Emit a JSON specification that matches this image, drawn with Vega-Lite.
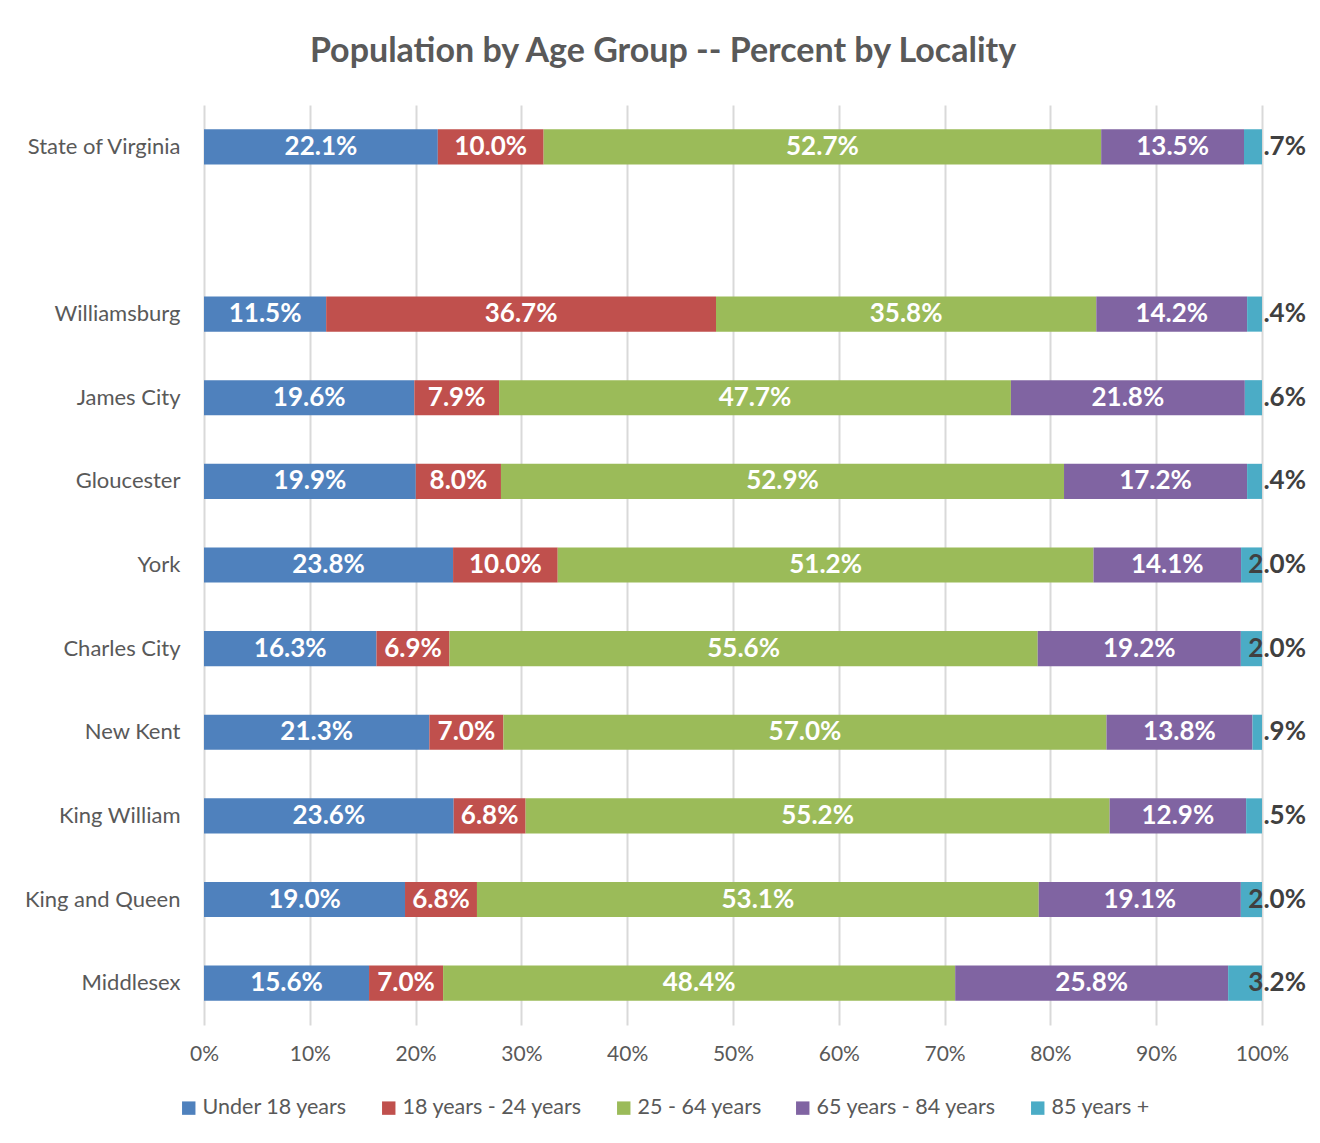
{
  "$schema": "https://vega.github.io/schema/vega-lite/v6.json",
  "width": 1058,
  "height": 920,
  "autosize": {"type": "none"},
  "padding": {"left": 204, "top": 105, "right": 58, "bottom": 118},
  "background": "white",
  "title": {"text": "Population by Age Group -- Percent by Locality", "font": "Lato", "fontSize": 34, "fontWeight": "bold", "color": "#595959", "anchor": "middle", "dx": -70, "offset": 36},
  "config": {"view": {"stroke": null}},
  "data": {"values": [
    {"loc": "State of Virginia", "grp": "Under 18 years", "k": 1, "v": 0.221},
    {"loc": "State of Virginia", "grp": "18 years - 24 years", "k": 2, "v": 0.100},
    {"loc": "State of Virginia", "grp": "25 - 64 years", "k": 3, "v": 0.527},
    {"loc": "State of Virginia", "grp": "65 years - 84 years", "k": 4, "v": 0.135},
    {"loc": "State of Virginia", "grp": "85 years +", "k": 5, "v": 0.017, "tag": ".7%"},
    {"loc": "Williamsburg", "grp": "Under 18 years", "k": 1, "v": 0.115},
    {"loc": "Williamsburg", "grp": "18 years - 24 years", "k": 2, "v": 0.367},
    {"loc": "Williamsburg", "grp": "25 - 64 years", "k": 3, "v": 0.358},
    {"loc": "Williamsburg", "grp": "65 years - 84 years", "k": 4, "v": 0.142},
    {"loc": "Williamsburg", "grp": "85 years +", "k": 5, "v": 0.014, "tag": ".4%"},
    {"loc": "James City", "grp": "Under 18 years", "k": 1, "v": 0.196},
    {"loc": "James City", "grp": "18 years - 24 years", "k": 2, "v": 0.079},
    {"loc": "James City", "grp": "25 - 64 years", "k": 3, "v": 0.477},
    {"loc": "James City", "grp": "65 years - 84 years", "k": 4, "v": 0.218},
    {"loc": "James City", "grp": "85 years +", "k": 5, "v": 0.016, "tag": ".6%"},
    {"loc": "Gloucester", "grp": "Under 18 years", "k": 1, "v": 0.199},
    {"loc": "Gloucester", "grp": "18 years - 24 years", "k": 2, "v": 0.080},
    {"loc": "Gloucester", "grp": "25 - 64 years", "k": 3, "v": 0.529},
    {"loc": "Gloucester", "grp": "65 years - 84 years", "k": 4, "v": 0.172},
    {"loc": "Gloucester", "grp": "85 years +", "k": 5, "v": 0.014, "tag": ".4%"},
    {"loc": "York", "grp": "Under 18 years", "k": 1, "v": 0.238},
    {"loc": "York", "grp": "18 years - 24 years", "k": 2, "v": 0.100},
    {"loc": "York", "grp": "25 - 64 years", "k": 3, "v": 0.512},
    {"loc": "York", "grp": "65 years - 84 years", "k": 4, "v": 0.141},
    {"loc": "York", "grp": "85 years +", "k": 5, "v": 0.020, "tag": "2.0%"},
    {"loc": "Charles City", "grp": "Under 18 years", "k": 1, "v": 0.163},
    {"loc": "Charles City", "grp": "18 years - 24 years", "k": 2, "v": 0.069},
    {"loc": "Charles City", "grp": "25 - 64 years", "k": 3, "v": 0.556},
    {"loc": "Charles City", "grp": "65 years - 84 years", "k": 4, "v": 0.192},
    {"loc": "Charles City", "grp": "85 years +", "k": 5, "v": 0.020, "tag": "2.0%"},
    {"loc": "New Kent", "grp": "Under 18 years", "k": 1, "v": 0.213},
    {"loc": "New Kent", "grp": "18 years - 24 years", "k": 2, "v": 0.070},
    {"loc": "New Kent", "grp": "25 - 64 years", "k": 3, "v": 0.570},
    {"loc": "New Kent", "grp": "65 years - 84 years", "k": 4, "v": 0.138},
    {"loc": "New Kent", "grp": "85 years +", "k": 5, "v": 0.009, "tag": ".9%"},
    {"loc": "King William", "grp": "Under 18 years", "k": 1, "v": 0.236},
    {"loc": "King William", "grp": "18 years - 24 years", "k": 2, "v": 0.068},
    {"loc": "King William", "grp": "25 - 64 years", "k": 3, "v": 0.552},
    {"loc": "King William", "grp": "65 years - 84 years", "k": 4, "v": 0.129},
    {"loc": "King William", "grp": "85 years +", "k": 5, "v": 0.015, "tag": ".5%"},
    {"loc": "King and Queen", "grp": "Under 18 years", "k": 1, "v": 0.190},
    {"loc": "King and Queen", "grp": "18 years - 24 years", "k": 2, "v": 0.068},
    {"loc": "King and Queen", "grp": "25 - 64 years", "k": 3, "v": 0.531},
    {"loc": "King and Queen", "grp": "65 years - 84 years", "k": 4, "v": 0.191},
    {"loc": "King and Queen", "grp": "85 years +", "k": 5, "v": 0.020, "tag": "2.0%"},
    {"loc": "Middlesex", "grp": "Under 18 years", "k": 1, "v": 0.156},
    {"loc": "Middlesex", "grp": "18 years - 24 years", "k": 2, "v": 0.070},
    {"loc": "Middlesex", "grp": "25 - 64 years", "k": 3, "v": 0.484},
    {"loc": "Middlesex", "grp": "65 years - 84 years", "k": 4, "v": 0.258},
    {"loc": "Middlesex", "grp": "85 years +", "k": 5, "v": 0.032, "tag": "3.2%"}
  ]},
  "encoding": {
    "y": {
      "field": "loc", "type": "nominal",
      "scale": {"domain": ["State of Virginia", " ", "Williamsburg", "James City", "Gloucester", "York", "Charles City", "New Kent", "King William", "King and Queen", "Middlesex"], "paddingInner": 0.58, "paddingOuter": 0.29},
      "axis": {"title": null, "domain": false, "ticks": false, "labelFont": "Lato", "labelFontSize": 22, "labelColor": "#595959", "labelPadding": 24, "labelLimit": 300}
    }
  },
  "layer": [
    {
      "mark": {"type": "bar"},
      "encoding": {
        "x": {
          "field": "v", "type": "quantitative", "stack": "normalize",
          "scale": {"domain": [0, 1]},
          "axis": {"title": null, "format": "%", "values": [0, 0.1, 0.2, 0.3, 0.4, 0.5, 0.6, 0.7, 0.8, 0.9, 1], "domain": false, "ticks": false, "grid": true, "gridColor": "#D9D9D9", "gridWidth": 2, "labelFont": "Lato", "labelFontSize": 21, "labelColor": "#595959", "labelPadding": 18, "labelFlush": false, "labelOverlap": false}
        },
        "color": {
          "field": "grp", "type": "nominal",
          "scale": {"domain": ["Under 18 years", "18 years - 24 years", "25 - 64 years", "65 years - 84 years", "85 years +"], "range": ["#4F81BD", "#C0504D", "#9BBB59", "#8064A2", "#4BACC6"]},
          "legend": {"title": null, "orient": "none", "legendX": -26, "legendY": 992, "direction": "horizontal", "symbolType": "square", "symbolSize": 180, "symbolStrokeWidth": 0, "labelFont": "Lato", "labelFontSize": 21.5, "labelColor": "#595959", "labelOffset": 3, "labelLimit": 400, "columnPadding": 30}
        },
        "order": {"field": "k", "type": "quantitative"}
      }
    },
    {
      "mark": {"type": "text", "font": "Lato", "fontWeight": "bold", "fontSize": 26, "color": "white"},
      "encoding": {
        "x": {"field": "v", "type": "quantitative", "stack": "normalize", "bandPosition": 0.5},
        "order": {"field": "k", "type": "quantitative"},
        "detail": {"field": "grp"},
        "text": {"condition": {"test": "datum.k === 5", "value": ""}, "field": "v", "type": "quantitative", "format": ".1%"}
      }
    },
    {
      "transform": [{"filter": "datum.k === 5"}],
      "mark": {"type": "text", "font": "Lato", "fontWeight": "bold", "fontSize": 26, "color": "#404040", "align": "right", "dx": 44},
      "encoding": {
        "x": {"field": "v", "type": "quantitative", "stack": "normalize"},
        "text": {"field": "tag", "type": "nominal"}
      }
    }
  ]
}
